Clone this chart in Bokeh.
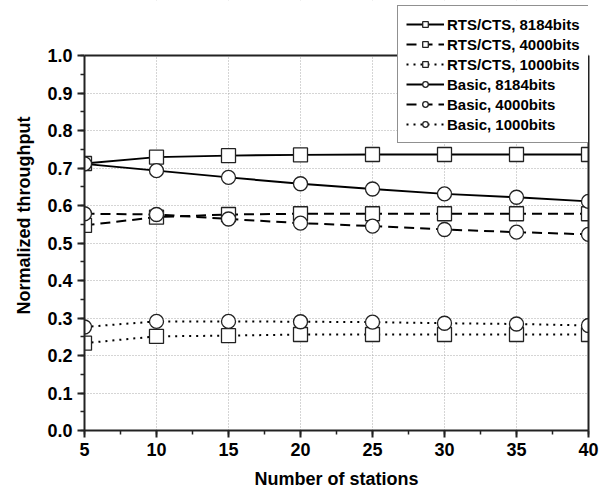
from bokeh.plotting import figure
from bokeh.models import (Range1d, SingleIntervalTicker, PrintfTickFormatter, Legend, LegendItem,
                          LinearAxis, Span, BoxAnnotation, FixedTicker)
from bokeh.embed import file_html
from bokeh.resources import INLINE

stations = [5, 10, 15, 20, 25, 30, 35, 40]
rts_8184 = [0.712, 0.729, 0.733, 0.735, 0.736, 0.736, 0.736, 0.736]
rts_4000 = [0.547, 0.569, 0.576, 0.578, 0.578, 0.578, 0.578, 0.578]
rts_1000 = [0.233, 0.251, 0.253, 0.256, 0.256, 0.256, 0.256, 0.256]
basic_8184 = [0.711, 0.693, 0.675, 0.658, 0.644, 0.631, 0.622, 0.611]
basic_4000 = [0.578, 0.576, 0.564, 0.553, 0.545, 0.536, 0.529, 0.523]
basic_1000 = [0.276, 0.291, 0.291, 0.290, 0.289, 0.286, 0.284, 0.280]

labels = ["RTS/CTS, 8184bits", "RTS/CTS, 4000bits", "RTS/CTS, 1000bits",
          "Basic, 8184bits", "Basic, 4000bits", "Basic, 1000bits"]
series = [rts_8184, rts_4000, rts_1000, basic_8184, basic_4000, basic_1000]
markers = ["square", "square", "square", "circle", "circle", "circle"]
dashes = ["solid", "10 6", "2 5", "solid", "10 6", "2 5"]

FONT = "Liberation Sans"
DARK = "#222222"
Y_TOP = 1.0
Y_EXTRA = 430 / 375  # room above the axes for the legend

p = figure(width=603, height=495, output_backend="svg", toolbar_location=None,
           x_range=Range1d(5, 40), y_range=Range1d(0, Y_EXTRA),
           min_border_left=84, min_border_top=0, min_border_right=15, min_border_bottom=65)
p.background_fill_color = "white"
p.border_fill_color = "white"
p.outline_line_color = None

# blank out the area above the plot box (hides grid lines there)
p.add_layout(BoxAnnotation(bottom=Y_TOP, fill_color="white", fill_alpha=1,
                           line_color=None, level="glyph"))

items = []
for lab, ys, mk, dsh in zip(labels, series, markers, dashes):
    r1 = p.line(stations, ys, line_color="black", line_width=2, line_dash=dsh)
    r2 = p.scatter(stations, ys, marker=mk, size=14, fill_color="white",
                   line_color="#222222", line_width=1.3)
    items.append(LegendItem(label=lab, renderers=[r1, r2]))

p.xaxis.ticker = SingleIntervalTicker(interval=5, num_minor_ticks=2)
p.yaxis.ticker = SingleIntervalTicker(interval=0.1, num_minor_ticks=2)
p.yaxis.formatter = PrintfTickFormatter(format="%.1f")
p.yaxis.bounds = (0, Y_TOP)
p.ygrid.bounds = (0, Y_TOP)

for ax in (p.xaxis[0], p.yaxis[0]):
    ax.axis_line_color = DARK
    ax.axis_line_width = 2
    ax.major_tick_line_color = DARK
    ax.major_tick_line_width = 2
    ax.minor_tick_line_color = DARK
    ax.minor_tick_line_width = 1.5
    ax.major_tick_out = 7
    ax.major_tick_in = 0
    ax.minor_tick_out = 4
    ax.minor_tick_in = 0
    ax.major_label_text_font = FONT
    ax.major_label_text_font_style = "bold"
    ax.major_label_text_font_size = "18px"
    ax.major_label_text_color = "black"
    ax.axis_label_text_font = FONT
    ax.axis_label_text_font_style = "bold"
    ax.axis_label_text_font_size = "18px"
    ax.axis_label_text_color = "black"

p.xaxis.axis_label = "Number of stations"
p.yaxis.axis_label = "Normalized throughput"
p.xaxis.major_label_standoff = 5
p.yaxis.major_label_standoff = 5
p.xaxis.axis_label_standoff = 10
p.yaxis.axis_label_standoff = 10

# right border of the plot box (no ticks, no labels)
right = LinearAxis(bounds=(0, Y_TOP), ticker=FixedTicker(ticks=[]),
                   axis_line_color=DARK, axis_line_width=2,
                   major_tick_line_color=None, minor_tick_line_color=None)
p.add_layout(right, "right")
# top border of the plot box
p.add_layout(Span(location=Y_TOP, dimension="width", line_color=DARK, line_width=2))

for g in (p.xgrid[0], p.ygrid[0]):
    g.grid_line_color = "#aaaaaa"
    g.grid_line_dash = "1 2"
    g.grid_line_width = 1

legend = Legend(items=items, location=(313, 287))
legend.label_text_font = FONT
legend.label_text_font_style = "bold"
legend.label_text_font_size = "15px"
legend.label_text_color = "black"
legend.glyph_width = 38
legend.glyph_height = 14
legend.label_height = 20
legend.spacing = 0
legend.padding = 8
legend.label_standoff = 3
legend.border_line_color = DARK
legend.border_line_width = 1.5
legend.background_fill_color = "white"
legend.background_fill_alpha = 1
legend.margin = 0
p.add_layout(legend)

open("out.html", "w").write(file_html(p, INLINE))
